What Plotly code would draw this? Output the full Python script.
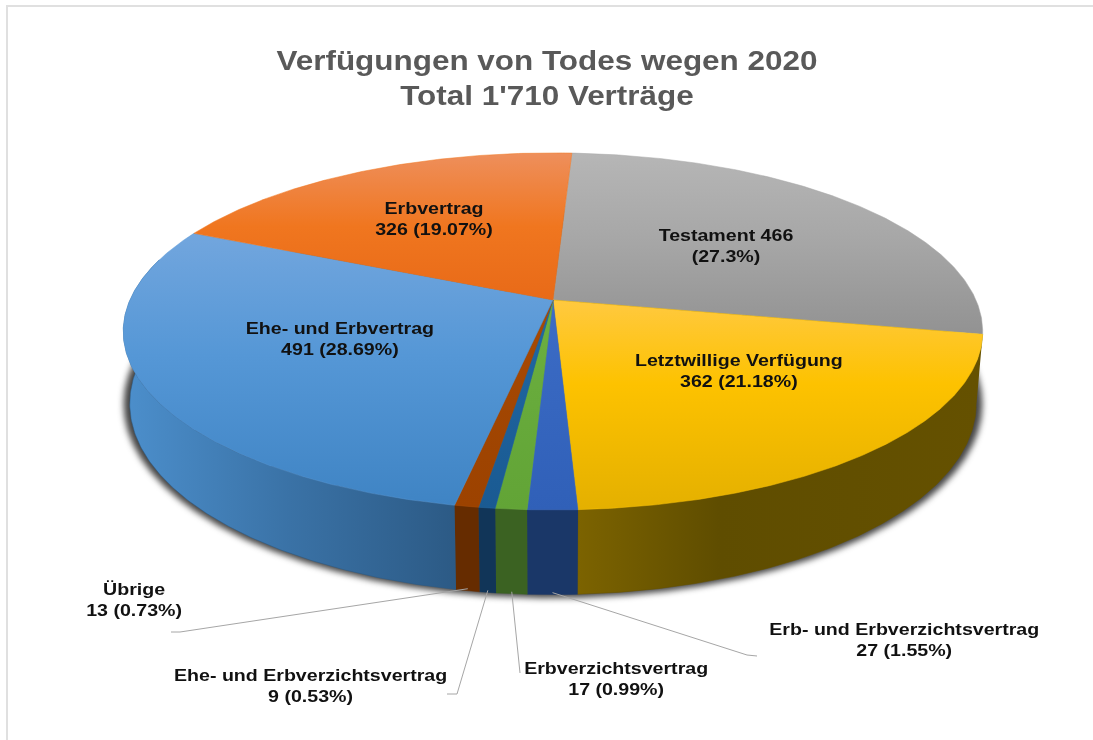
import numpy as np
import plotly.graph_objects as go

# ---- data ----
categories = ["Testament", "Letztwillige Verfügung", "Erb- und Erbverzichtsvertrag",
              "Erbverzichtsvertrag", "Ehe- und Erbverzichtsvertrag", "Übrige",
              "Ehe- und Erbvertrag", "Erbvertrag"]
values = [466, 362, 27, 17, 9, 13, 491, 326]
percents = ["27.3%", "21.18%", "1.55%", "0.99%", "0.53%", "0.73%", "28.69%", "19.07%"]
title_lines = ["Verfügungen von Todes wegen 2020", "Total 1'710 Verträge"]

# ---- styles ----
top_scales = [
    [[0, "#929292"], [0.5, "#a6a6a6"], [1, "#b6b6b6"]],
    [[0, "#e4b000"], [0.6, "#fdc200"], [1, "#ffc940"]],
    [[0, "#3060b8"], [1, "#3c6cc6"]],
    [[0, "#62a436"], [1, "#6cb040"]],
    [[0, "#1a5a92"], [1, "#2068a4"]],
    [[0, "#9c4200"], [1, "#a84a04"]],
    [[0, "#3f84c4"], [0.55, "#5597d6"], [1, "#72a6de"]],
    [[0, "#e86a18"], [0.5, "#f0761f"], [1, "#ee8f5c"]],
]
wall_scales = [
    None,
    [[0, "#7c6300"], [0.35, "#5f4d00"], [1, "#655100"]],
    [[0, "#1a3768"], [1, "#1a3768"]],
    [[0, "#3b6222"], [1, "#3b6222"]],
    [[0, "#113558"], [1, "#113558"]],
    [[0, "#662c00"], [1, "#662c00"]],
    [[0, "#4c8fcc"], [0.5, "#3a72a6"], [1, "#2c5a85"]],
    None,
]
start_deg = 3.0
cx, cy, rx, ry, persp = 553.0, 300.0, 423.0, 173.0, 0.176
wall_sx, wall_dy, wall_sy = 0.985, 70.0, 1.07
font_family = "Liberation Sans, Arial, sans-serif"

label_text = [
    f"{categories[0]} {values[0]}<br>({percents[0]})",
    *[f"{c}<br>{v} ({p})" for c, v, p in zip(categories[1:], values[1:], percents[1:])],
]
label_x = [726, 739, 904, 616, 310, 134, 340, 434]
label_y = [246, 371, 640, 679, 686, 599, 339, 219]
leader_elbow_x = [[747, 757], [520, 520], [457, 447], [180, 171]]
leader_elbow_y = [[655, 656], [673, 673], [694, 694], [632, 632]]
leader_slices = [2, 3, 4, 5]


def rim(deg):
    t = np.radians(deg)
    u, v = np.sin(t), -np.cos(t)
    d = 1 - persp * v
    return cx + rx * u / d, cy + ry * v / d


def base(deg):
    t = np.radians(deg)
    u, v = np.sin(t), -np.cos(t)
    d = 1 - persp * v
    return cx + wall_sx * rx * u / d, cy + wall_dy + wall_sy * ry * v / d


total = sum(values)
edges = start_deg + np.concatenate([[0], np.cumsum(values)]) * 360.0 / total


def arc(a, b):
    return np.linspace(a, b, max(2, int(abs(b - a) * 2) + 1))


fig = go.Figure()

# soft shadow under the cake (blurred by the page script below)
x, y = base(arc(0, 360))
x = cx + (x - cx) * (1 + 6 / 420.0)
y = (cy + wall_dy) + (y - cy - wall_dy) * (1 + 3 / 200.0)
fig.add_trace(go.Scatter(x=x, y=y, mode="lines", fill="toself", line=dict(width=0),
                         fillcolor="rgba(35,35,35,0.85)", hoverinfo="skip", showlegend=False))

# walls
for i, sc in enumerate(wall_scales):
    if sc is None:
        continue
    a, b = edges[i], edges[i + 1]
    b = min(b, 284.0)
    ang = arc(a, b)
    tx, ty = rim(ang)
    bx, by = base(ang)
    fig.add_trace(go.Scatter(
        x=np.concatenate([tx, bx[::-1]]), y=np.concatenate([ty, by[::-1]]),
        mode="lines", fill="toself", line=dict(width=0.5, color=sc[-1][1]),
        fillgradient=dict(type="horizontal", colorscale=sc),
        hoverinfo="skip", showlegend=False))

# top faces
for i, sc in enumerate(top_scales):
    ang = arc(edges[i], edges[i + 1])
    tx, ty = rim(ang)
    fig.add_trace(go.Scatter(
        x=np.concatenate([[cx], tx, [cx]]), y=np.concatenate([[cy], ty, [cy]]),
        mode="lines", fill="toself", line=dict(width=0.5, color=sc[1][1]),
        fillgradient=dict(type="vertical", colorscale=sc),
        name=categories[i], hoverinfo="skip", showlegend=False))

# leader lines
for s, ex, ey in zip(leader_slices, leader_elbow_x, leader_elbow_y):
    sx, sy = base((edges[s] + edges[s + 1]) / 2)
    fig.add_trace(go.Scatter(x=[sx, *ex], y=[sy - 2, *ey], mode="lines",
                             line=dict(color="#a6a6a6", width=1), hoverinfo="skip", showlegend=False))

for txt, x, y in zip(label_text, label_x, label_y):
    fig.add_annotation(x=x, y=y, text=txt, showarrow=False, xanchor="center", yanchor="middle",
                       font=dict(family=font_family, size=16, color="#111111", weight="bold"))

fig.update_layout(
    width=1093, height=740, autosize=False,
    margin=dict(l=0, r=0, t=0, b=0),
    paper_bgcolor="white", plot_bgcolor="white",
    showlegend=False,
    title=dict(text="<br>".join(title_lines), x=547 / 1093, xanchor="center", y=1 - 70 / 740, yanchor="middle",
               font=dict(family=font_family, size=27, color="#595959", weight="bold")),
    xaxis=dict(range=[0, 1093], visible=False, fixedrange=True),
    yaxis=dict(range=[740, 0], visible=False, fixedrange=True),
    shapes=[
        dict(type="line", xref="x", yref="y", x0=7, x1=7, y0=6, y1=740, line=dict(color="#e0e0e0", width=2)),
        dict(type="line", xref="x", yref="y", x0=6, x1=1093, y0=6, y1=6, line=dict(color="#e0e0e0", width=2)),
    ],
)
page_script = """
document.body.style.margin = '0';
function stretch(sel, k) {
  document.querySelectorAll(sel).forEach(function (t) {
    t.style.transformBox = 'fill-box';
    t.style.transformOrigin = 'center';
    t.style.transform = 'scaleX(' + k + ')';
  });
}
stretch('.annotation-text', 1.225);
stretch('.gtitle', 1.165);
var first = document.querySelector('.scatterlayer .trace');
if (first) { first.style.filter = 'blur(3px)'; }
document.querySelectorAll('.main-svg').forEach(function (s) { s.style.filter = 'blur(0.5px)'; });
"""
fig.write_html("out.html", config=dict(displayModeBar=False), post_script=page_script)
